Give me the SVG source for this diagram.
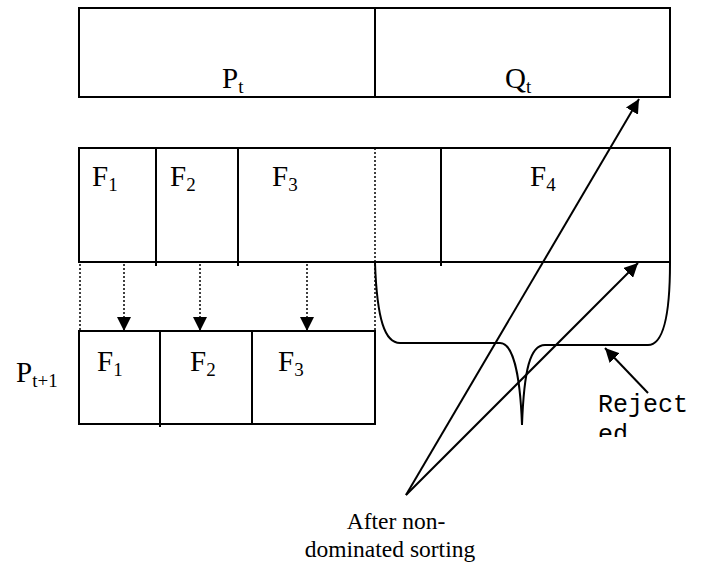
<svg xmlns="http://www.w3.org/2000/svg" width="705" height="569" viewBox="0 0 705 569">
<style>
.box{fill:#fff;stroke:#000;stroke-width:2}
.ln{stroke:#000;stroke-width:2;fill:none}
.dot{stroke:#000;stroke-width:1.5;stroke-dasharray:2 2;fill:none}
.t{font-family:"Liberation Serif","Times New Roman",serif;font-size:29px;fill:#000}
.s{font-size:19px}
.c{font-family:"Liberation Serif","Times New Roman",serif;font-size:23.5px;fill:#000}
.m{font-family:"Liberation Mono","Courier New",monospace;font-size:25px;fill:#000}
</style>
<defs>
<marker id="ah" viewBox="0 0 10 10" refX="10" refY="5" markerWidth="14" markerHeight="14" markerUnits="userSpaceOnUse" orient="auto"><path d="M0,0 L10,5 L0,10 z" fill="#000"/></marker>
<clipPath id="rc"><rect x="560" y="380" width="145" height="57"/></clipPath>
</defs>
<g id="top">
<rect class="box" x="79" y="8" width="591" height="89"/>
<line class="ln" x1="375" y1="8" x2="375" y2="97"/>
<text class="t" x="222" y="88">P<tspan class="s" dy="5">t</tspan></text>
<text class="t" x="505" y="88">Q<tspan class="s" dy="5">t</tspan></text>
</g>
<g id="middle">
<rect class="box" x="79" y="148" width="591" height="114"/>
<line class="ln" x1="156" y1="148" x2="156" y2="266"/>
<line class="ln" x1="238" y1="148" x2="238" y2="266"/>
<line class="dot" x1="375" y1="148" x2="375" y2="262"/>
<line class="ln" x1="441" y1="148" x2="441" y2="266"/>
<text class="t" x="92" y="186">F<tspan class="s" dy="5">1</tspan></text>
<text class="t" x="170" y="186">F<tspan class="s" dy="5">2</tspan></text>
<text class="t" x="272" y="186">F<tspan class="s" dy="5">3</tspan></text>
<text class="t" x="530" y="186">F<tspan class="s" dy="5">4</tspan></text>
</g>
<g id="bottom">
<rect class="box" x="79" y="331" width="296" height="93"/>
<line class="ln" x1="160" y1="331" x2="160" y2="427"/>
<line class="ln" x1="252" y1="331" x2="252" y2="424"/>
<text class="t" x="97" y="371">F<tspan class="s" dy="5">1</tspan></text>
<text class="t" x="190" y="371">F<tspan class="s" dy="5">2</tspan></text>
<text class="t" x="278" y="371">F<tspan class="s" dy="5">3</tspan></text>
</g>
<g id="label-pt1">
<text class="t" x="16" y="382">P<tspan class="s" dy="5">t+1</tspan></text>
</g>
<g id="connectors">
<line class="dot" x1="80" y1="264" x2="80" y2="330"/>
<line class="dot" x1="375" y1="264" x2="375" y2="330"/>
<line class="dot" x1="124" y1="264" x2="124" y2="331" marker-end="url(#ah)"/>
<line class="dot" x1="200" y1="264" x2="200" y2="331" marker-end="url(#ah)"/>
<line class="dot" x1="307" y1="264" x2="307" y2="331" marker-end="url(#ah)"/>
<path class="ln" d="M375,263 C377,320 385,343 400,343 L500,343 C512,343 520,370 522,425 C524,370 530,345 545,345 L648,345 C662,345 670,320 670,263"/>
<line class="ln" x1="406" y1="495" x2="639" y2="99" marker-end="url(#ah)"/>
<line class="ln" x1="406" y1="495" x2="638" y2="263" marker-end="url(#ah)"/>
<line class="ln" x1="648" y1="393" x2="605" y2="348" marker-end="url(#ah)"/>
</g>
<g id="rejected" clip-path="url(#rc)">
<text class="m" x="598" y="412">Reject</text>
<text class="m" x="598" y="442">ed</text>
</g>
<g id="caption">
<text class="c" x="396" y="529" text-anchor="middle">After non-</text>
<text class="c" x="390" y="557" text-anchor="middle">dominated sorting</text>
</g>
</svg>
